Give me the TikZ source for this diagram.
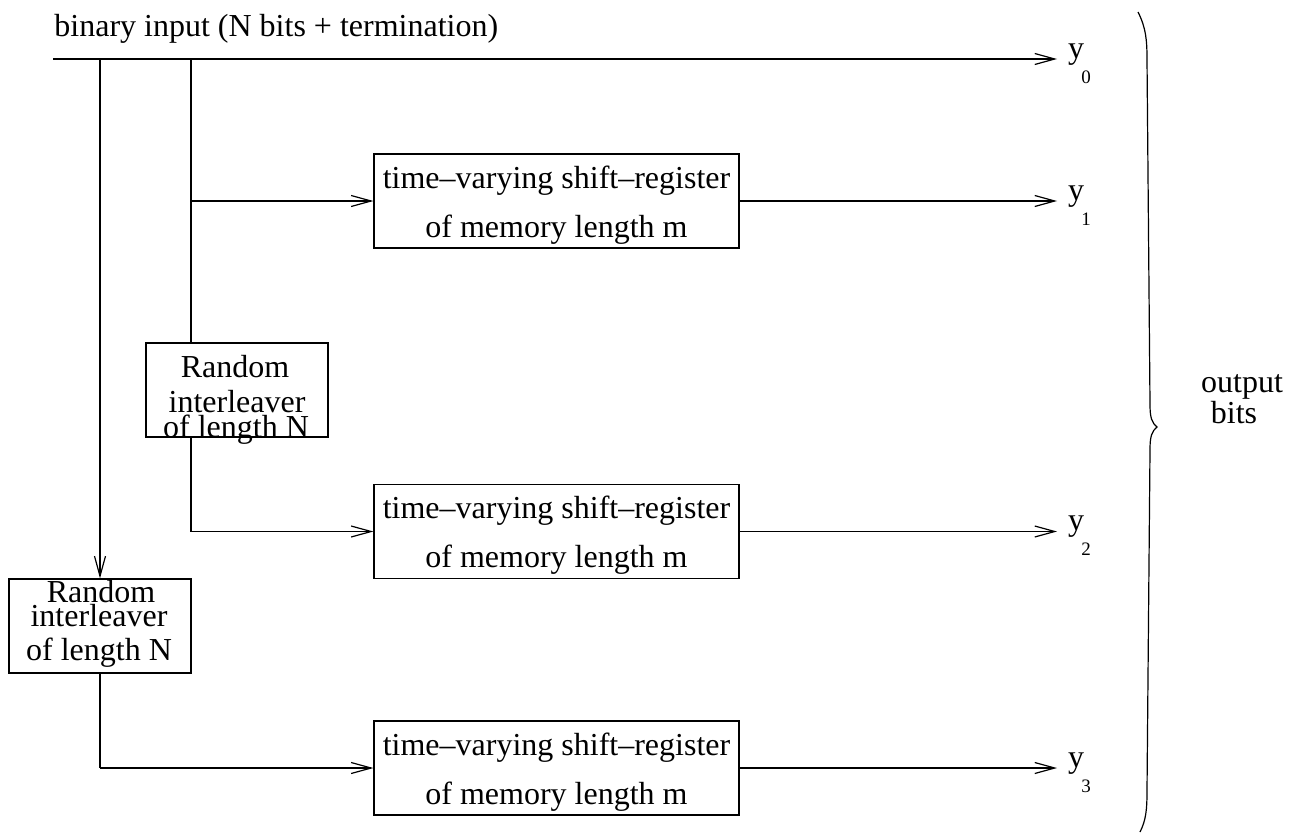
\documentclass[tikz,border=0pt]{standalone}
\usepackage{fontspec}
\setmainfont{Liberation Serif}
\usetikzlibrary{arrows.meta}
\begin{document}
\begin{tikzpicture}[x=0.5pt,y=-0.5pt,
  every node/.style={font=\fontsize{16}{19}\selectfont, inner sep=0pt},
  conn/.style={line width=0.6pt},
  arr/.style={conn,-{Straight Barb[length=10pt,width=5.5pt,line width=0.6pt]}},
  regbox/.style={draw, line width=0.6pt, minimum width=182.5pt, minimum height=47pt},
  ilbox/.style={draw, line width=0.6pt, minimum width=91pt, minimum height=47pt},
  lbl/.style={anchor=base},
  sub/.style={anchor=base, font=\fontsize{9.5}{11}\selectfont}]
\useasboundingbox (0,0) rectangle (1304,835);

% input label and line
\node[anchor=base west] (title) at (54,36) {binary input (N bits + termination)};
\coordinate (in) at (53,59);
\coordinate (j1) at (100,59);
\coordinate (j2) at (191,59);
\coordinate (o0) at (1057,59);

% shift register boxes
\node[regbox] (regA) at (556.5,201) {};
\node[lbl] (regAt1) at (556.5,188) {time–varying shift–register};
\node[lbl] (regAt2) at (556.5,237) {of memory length m};
\node[regbox] (regB) at (556.5,531.5) {};
\node[lbl] (regBt1) at (556.5,518) {time–varying shift–register};
\node[lbl] (regBt2) at (556.5,567) {of memory length m};
\node[regbox] (regC) at (556.5,768) {};
\node[lbl] (regCt1) at (556.5,755) {time–varying shift–register};
\node[lbl] (regCt2) at (556.5,804) {of memory length m};

% interleavers
\node[ilbox] (il1) at (237,390) {};
\node[lbl] (il1a) at (235,377) {Random};
\node[lbl] (il1b) at (237,412) {interleaver};
\node[lbl] (il1c) at (236,437) {of length N};
\node[ilbox] (il2) at (100,626) {};
\node[lbl] (il2a) at (101,602) {Random};
\node[lbl] (il2b) at (99,626) {interleaver};
\node[lbl] (il2c) at (99,660) {of length N};

% branch points
\coordinate (bA) at (191,201);
\coordinate (bB) at (191,531.5);
\coordinate (bC) at (100,768);

% outputs
\coordinate (o1) at (1057,201);
\coordinate (o2) at (1057,531.5);
\coordinate (o3) at (1057,768);
\node[lbl] (y0) at (1076,58) {y};
\node[sub] (s0) at (1086,83) {0};
\node[lbl] (y1) at (1076,200) {y};
\node[sub] (s1) at (1086,225) {1};
\node[lbl] (y2) at (1076,530.5) {y};
\node[sub] (s2) at (1086,555.5) {2};
\node[lbl] (y3) at (1076,767) {y};
\node[sub] (s3) at (1086,792) {3};

% connectors
\draw[arr] (in) -- (o0);
\draw[arr] (j1) -- (il2.north);
\draw[conn] (j2) -- (il1.north -| j2);
\draw[arr] (bA) -- (regA.west);
\draw[arr] (regA.east) -- (o1);
\draw[conn] (il1.south -| bB) -- (bB);
\draw[arr] (bB) -- (regB.west);
\draw[arr] (regB.east) -- (o2);
\draw[conn] (il2.south) -- (bC);
\draw[arr] (bC) -- (regC.west);
\draw[arr] (regC.east) -- (o3);

% brace
\draw[line width=0.6pt] (1138,12) .. controls (1146,28) and (1147,40) .. (1147,60)
  -- (1150,405) .. controls (1150,418) and (1152,423) .. (1157,427)
  .. controls (1152,431) and (1150,436) .. (1150,449)
  -- (1147,790) .. controls (1147,810) and (1146,820) .. (1140,832);
\node[lbl] (out1) at (1242,392) {output};
\node[lbl] (out2) at (1234,423) {bits};
\end{tikzpicture}
\end{document}
